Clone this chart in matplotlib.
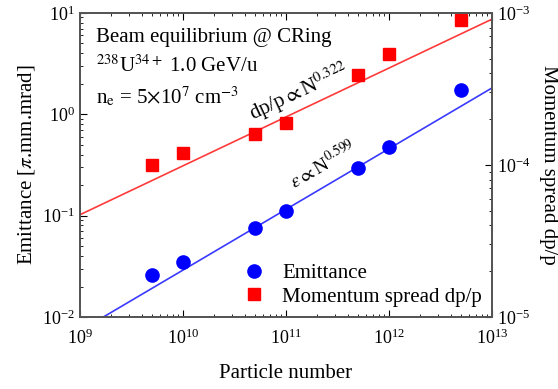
import matplotlib as mpl
mpl.use('Agg')
import matplotlib.pyplot as plt
import numpy as np

plt.rcParams['font.family'] = ['Liberation Serif', 'DejaVu Serif']
plt.rcParams['mathtext.fontset'] = 'stix'

# particle number
N = [5e9, 1e10, 5e10, 1e11, 5e11, 1e12, 5e12]
# emittance [pi.mm.mrad] (left axis)
emit = [0.026, 0.035, 0.075, 0.11, 0.295, 0.48, 1.75]
# momentum spread dp/p (right axis)
dpp = [1.0e-4, 1.2e-4, 1.6e-4, 1.9e-4, 3.9e-4, 5.4e-4, 9.0e-4]

# fit lines (end points)
fit_N = [1e9, 1e13]
emit_fit = [0.0073, 1.82]
dpp_fit = [4.7e-5, 9.1e-4]

fig = plt.figure(figsize=(5.58, 3.89), dpi=100)
ax = fig.add_axes([0.143, 0.185, 0.739, 0.782])
ax2 = ax.twinx()

ax.plot(fit_N, emit_fit, color='#3a3aff', lw=1.2)
e_pts, = ax.plot(N, emit, 'o', color='#0000ff', ms=9.5, label='Emittance')
ax2.plot(fit_N, dpp_fit, color='#ff3a3a', lw=1.2)
d_pts, = ax2.plot(N, dpp, 's', color='#ff0000', ms=9, label='Momentum spread dp/p')

ax.set_xscale('log')
ax.set_yscale('log')
ax2.set_yscale('log')
ax.set_xlim(1e9, 1e13)
ax.set_ylim(1e-2, 1e1)
ax2.set_ylim(1e-5, 1e-3)

for a in (ax, ax2):
    a.tick_params(which='both', direction='in', top=True, labelsize=13)
    a.tick_params(which='major', length=5)
    a.tick_params(which='minor', length=2.5)
    for s in a.spines.values():
        s.set_color('#555555')
        s.set_linewidth(1.3)
ax.tick_params(axis='x', pad=8)

ax.set_xlabel('Particle number', fontsize=15, labelpad=12)
ax.set_ylabel(r'Emittance [$\pi$.mm.mrad]', fontsize=15)
ax2.set_ylabel('Momentum spread dp/p', fontsize=15, rotation=270, labelpad=20)

ax.text(0.04, 0.905, 'Beam equilibrium @ CRing', transform=ax.transAxes, fontsize=15)
ax.text(0.04, 0.805, r'$^{238}$U$^{34+}$ 1.0 GeV/u', transform=ax.transAxes, fontsize=15)
ax.text(0.04, 0.70, r'n$_{\mathrm{e}}$ = 5$\times$10$^{7}$ cm$^{-3}$', transform=ax.transAxes, fontsize=15)

ax.text(0.42, 0.645, r'dp/p$\propto$N$^{0.322}$', transform=ax.transAxes, fontsize=15,
        rotation=25, rotation_mode='anchor')
ax.text(0.52, 0.42, r'$\varepsilon\propto$N$^{0.599}$', transform=ax.transAxes, fontsize=14,
        rotation=30, rotation_mode='anchor')

ax.legend(handles=[e_pts, d_pts], loc='lower right', frameon=False, fontsize=15,
          handletextpad=0.6, borderaxespad=0.1, labelspacing=0.2, handlelength=1.5)

fig.savefig('out.png')
